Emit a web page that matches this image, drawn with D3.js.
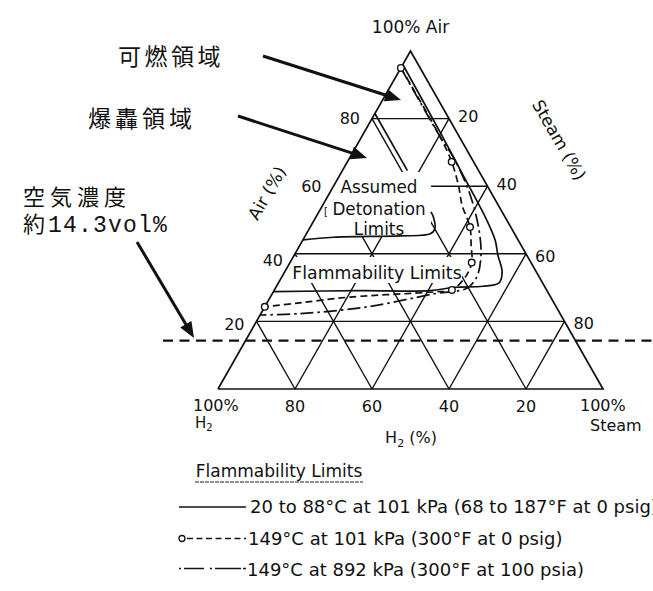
<!DOCTYPE html>
<html>
<head>
<meta charset="utf-8">
<script src="https://cdn.jsdelivr.net/npm/d3@7"></script>
<style>
  html, body { margin: 0; padding: 0; background: #fff; }
  svg { display: block; }
  text { font-family: "DejaVu Sans", sans-serif; fill: #111; }
  .jp { font-family: "Noto Sans CJK JP", sans-serif; }
</style>
</head>
<body>
<div id="chart"></div>
<script>
// every point is [H2 %, Air %, Steam %]
const gridSteps = [20, 40, 60, 80];
const airTicks = [80, 60, 40, 20];
const steamTicks = [20, 40, 60, 80];
const h2Ticks = [80, 60, 40, 20];

// 20 to 88 C at 101 kPa
const solidLimit = [
  [4, 96, 0], [4.3, 76.6, 19.1], [4.7, 63.3, 32], [5.2, 50, 44.8], [6, 44, 50],
  [7.5, 39.6, 52.9], [8.9, 34.6, 56.5], [11.3, 31.4, 57.3], [16, 30.4, 53.6],
  [23.4, 30.1, 46.5], [30.4, 29.1, 40.5], [48.6, 29.1, 22.3], [71.2, 28.8, 0]
];
// 149 C at 101 kPa
const dashedLimit = [
  [5, 95, 0], [5, 74.6, 20.4], [5.7, 67.2, 27.1], [7.5, 60, 32.5], [9.4, 54.4, 36.2],
  [10.6, 47.9, 41.5], [13, 42.5, 44.5], [15.4, 37.4, 47.2], [18.9, 33.4, 47.7],
  [24.6, 29.3, 46.1], [29.8, 28.7, 41.5], [52.1, 27.2, 20.7], [66, 25.5, 8.5], [75.7, 24.3, 0]
];
const dashedMarkers = [
  [5, 95, 0], [5.7, 67.2, 27.1], [10.6, 47.9, 41.5], [15.4, 37.4, 47.2], [24.6, 29.3, 46.1], [75.7, 24.3, 0]
];
// 149 C at 892 kPa
const dashDotLimit = [
  [5, 95, 0], [5, 74.6, 20.4], [4.6, 67.8, 27.6], [5.8, 57.4, 36.8], [8.7, 47, 44.3],
  [11.9, 39.6, 48.5], [16, 33.4, 50.6], [20.3, 29.9, 49.8], [30.1, 28.1, 41.8],
  [49.1, 24.3, 26.6], [67.6, 22.3, 10.1], [78.1, 21.9, 0]
];
// assumed detonation limits (middle part is hidden behind its label)
const detonationLean = [[18.5, 81.5, 0], [18.5, 64.6, 16.9]];
const detonationRich = [
  [18.5, 52.4, 29.1], [18.6, 51, 30.4], [19.9, 47.5, 32.6], [21.9, 45.9, 32.2],
  [30, 45.3, 24.7], [47.6, 44.9, 7.5], [55.9, 44.1, 0]
];
const airLevel = 14.3;

const legendTitle = "Flammability Limits";
const legendItems = [
  "20 to 88°C at 101 kPa (68 to 187°F at 0 psig)",
  "149°C at 101 kPa (300°F at 0 psig)",
  "149°C at 892 kPa (300°F at 100 psia)"
];
const detonationLabel = ["Assumed", "Detonation", "Limits"];
const flammLabel = "Flammability Limits";
const jpNotes = ["可燃領域", "爆轟領域", "空気濃度"];
const jpNote2 = ["約", "14.3vol%"];

const width = 653, height = 591;
const airTickDy = [5, 6, 12, 9];
const steamTickDy = [3, 4, 8, 8];

const svg = d3.select("#chart").append("svg")
  .attr("width", width).attr("height", height);

const xScale = d3.scaleLinear().domain([0, 100]).range([218, 603]);
const yScale = d3.scaleLinear().domain([0, 100]).range([389, 51]);
const px = d => xScale(d[2] + d[1] / 2);
const py = d => yScale(d[1]);
const straight = d3.line().x(px).y(py);
const smooth = d3.line().x(px).y(py).curve(d3.curveCatmullRom.alpha(0.5));

// grid
const gridLines = [];
gridSteps.forEach(v => {
  gridLines.push([[100 - v, v, 0], [0, v, 100 - v]]);
  gridLines.push([[v, 100 - v, 0], [v, 0, 100 - v]]);
  gridLines.push([[0, 100 - v, v], [100 - v, 0, v]]);
});
svg.append("g").selectAll("path")
  .data(gridLines).enter().append("path")
  .attr("d", straight)
  .attr("fill", "none").attr("stroke", "#111").attr("stroke-width", 1.4);

// white boxes behind the two in-chart labels
svg.append("rect").attr("x", 300).attr("y", 172).attr("width", 131).attr("height", 65).attr("fill", "#fff");
svg.append("rect").attr("x", 286).attr("y", 257).attr("width", 176).attr("height", 26).attr("fill", "#fff");

// outline
svg.append("path")
  .attr("d", straight([[100, 0, 0], [0, 100, 0], [0, 0, 100], [100, 0, 0]]))
  .attr("fill", "none").attr("stroke", "#111").attr("stroke-width", 1.7)
  .attr("stroke-linejoin", "miter");

// limit curves
const curves = svg.append("g").attr("fill", "none").attr("stroke", "#111").attr("stroke-width", 1.7);
curves.append("path").attr("d", smooth(solidLimit));
curves.append("path").attr("d", smooth(dashedLimit)).attr("stroke-dasharray", "7 4");
curves.append("path").attr("d", smooth(dashDotLimit)).attr("stroke-dasharray", "13 4 2.5 4");
curves.append("path").attr("d", straight(detonationLean));
curves.append("path").attr("d", smooth(detonationRich));

svg.append("g").selectAll("circle")
  .data(dashedMarkers).enter().append("circle")
  .attr("cx", px).attr("cy", py).attr("r", 3.3)
  .attr("fill", "#fff").attr("stroke", "#111").attr("stroke-width", 1.4);

// tick labels
svg.append("g").selectAll("text")
  .data(airTicks).enter().append("text")
  .attr("x", v => xScale(v / 2) - 12)
  .attr("y", (v, i) => yScale(v) + airTickDy[i])
  .attr("text-anchor", "end").style("font-size", "16px")
  .text(d => d);
svg.append("g").selectAll("text")
  .data(steamTicks).enter().append("text")
  .attr("x", v => xScale(v + (100 - v) / 2) + 9)
  .attr("y", (v, i) => yScale(100 - v) + steamTickDy[i])
  .style("font-size", "16px")
  .text(d => d);
svg.append("g").selectAll("text")
  .data(h2Ticks).enter().append("text")
  .attr("x", v => xScale(100 - v))
  .attr("y", yScale(0) + 23)
  .attr("text-anchor", "middle").style("font-size", "16px")
  .text(d => d);

svg.append("text").attr("x", xScale(50)).attr("y", 33)
  .attr("text-anchor", "middle").style("font-size", "17px").text("100% Air");
svg.append("text").attr("x", 193).attr("y", 411).style("font-size", "16px").text("100%");
const h2a = svg.append("text").attr("x", 195).attr("y", 428).style("font-size", "15px");
h2a.append("tspan").text("H");
h2a.append("tspan").attr("dy", 3).style("font-size", "10px").text("2");
svg.append("text").attr("x", 580).attr("y", 411).style("font-size", "16px").text("100%");
svg.append("text").attr("x", 590).attr("y", 431).style("font-size", "16px").text("Steam");

const h2t = svg.append("text").attr("x", 411).attr("y", 443)
  .attr("text-anchor", "middle").style("font-size", "16px");
h2t.append("tspan").text("H");
h2t.append("tspan").attr("dy", 4).style("font-size", "11px").text("2");
h2t.append("tspan").attr("dy", -4).text(" (%)");

svg.append("text").attr("transform", "translate(272,196) rotate(-60)")
  .attr("text-anchor", "middle").style("font-size", "17px").text("Air (%)");
svg.append("text").attr("transform", "translate(554,143) rotate(60)")
  .attr("text-anchor", "middle").style("font-size", "17px").text("Steam (%)");

// in-chart labels
svg.append("g").selectAll("text")
  .data(detonationLabel).enter().append("text")
  .attr("x", 379).attr("y", (d, i) => [193, 215, 235][i])
  .attr("text-anchor", "middle").style("font-size", "16.8px")
  .text(d => d);
svg.append("text").attr("x", 324).attr("y", 215).style("font-size", "10px").text("[");
svg.append("text").attr("x", 377).attr("y", 279)
  .attr("text-anchor", "middle").style("font-size", "17.3px").text(flammLabel);

// 14.3 vol% air level
svg.append("line")
  .attr("x1", 163).attr("x2", width)
  .attr("y1", yScale(airLevel)).attr("y2", yScale(airLevel))
  .attr("stroke", "#111").attr("stroke-width", 2.2).attr("stroke-dasharray", "10 6.5");

// japanese notes and arrows
const jp = svg.append("g").attr("class", "jp");
jp.append("text").attr("class", "jp").attr("x", 118).attr("y", 65)
  .style("font-size", "23px").style("letter-spacing", "3.5px").text(jpNotes[0]);
jp.append("text").attr("class", "jp").attr("x", 88).attr("y", 127)
  .style("font-size", "23px").style("letter-spacing", "4px").text(jpNotes[1]);
jp.append("text").attr("class", "jp").attr("x", 23).attr("y", 205)
  .style("font-size", "22px").style("letter-spacing", "5px").text(jpNotes[2]);
const jp2 = jp.append("text").attr("class", "jp").attr("x", 23).attr("y", 232).style("font-size", "22px");
jp2.append("tspan").text(jpNote2[0]);
jp2.append("tspan").attr("dx", 3).style("font-family", "'Liberation Mono', monospace")
  .style("font-size", "23px").style("letter-spacing", "1.2px").text(jpNote2[1]);

function arrow(x1, y1, x2, y2) {
  const a = Math.atan2(y2 - y1, x2 - x1);
  const len = 16, half = 6.5;
  const bx = x2 - len * Math.cos(a), by = y2 - len * Math.sin(a);
  svg.append("line").attr("x1", x1).attr("y1", y1)
    .attr("x2", bx + 2 * Math.cos(a)).attr("y2", by + 2 * Math.sin(a))
    .attr("stroke", "#111").attr("stroke-width", 3);
  svg.append("path")
    .attr("d", `M${x2},${y2}L${bx - half * Math.sin(a)},${by + half * Math.cos(a)}L${bx + half * Math.sin(a)},${by - half * Math.cos(a)}Z`)
    .attr("fill", "#111");
}
arrow(263, 56, 401, 100);
arrow(238, 116, 367, 158);
arrow(137, 242, 194, 338);

// legend
svg.append("text").attr("x", 279).attr("y", 477)
  .attr("text-anchor", "middle").style("font-size", "17px").text(legendTitle);
svg.append("line").attr("x1", 195).attr("x2", 363).attr("y1", 482).attr("y2", 482)
  .attr("stroke", "#222").attr("stroke-width", 1.1).attr("stroke-dasharray", "4 1");

const legendY = [507, 538.5, 568.5];
const legendStyles = [null, "6 3.5", "2 3 20 6 2 3 26"];
svg.append("g").selectAll("line")
  .data(legendItems).enter().append("line")
  .attr("x1", (d, i) => i === 1 ? 187 : 179).attr("x2", 246)
  .attr("y1", (d, i) => legendY[i]).attr("y2", (d, i) => legendY[i])
  .attr("stroke", "#111").attr("stroke-width", 1.5)
  .attr("stroke-dasharray", (d, i) => legendStyles[i]);
svg.append("circle").attr("cx", 182).attr("cy", legendY[1]).attr("r", 3)
  .attr("fill", "#fff").attr("stroke", "#111").attr("stroke-width", 1.3);
svg.append("g").selectAll("text")
  .data(legendItems).enter().append("text")
  .attr("x", (d, i) => [250, 248, 247][i])
  .attr("y", (d, i) => [513, 545, 576][i])
  .style("font-size", "18px")
  .text(d => d);
</script>
</body>
</html>
